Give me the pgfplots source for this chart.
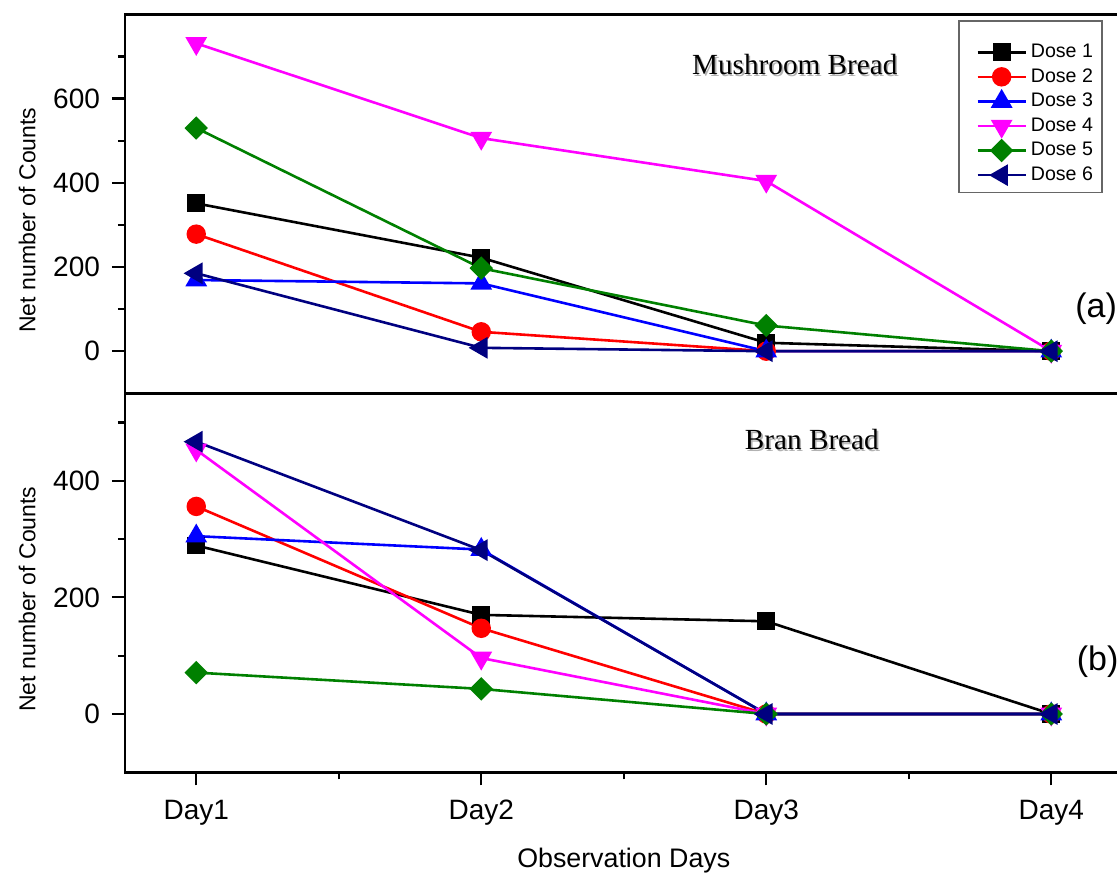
\documentclass[border=0pt]{standalone}
\usepackage{pgfplots}
\pgfplotsset{compat=1.18}
\usepackage{fontspec}
\setmainfont{Liberation Sans}
\newfontfamily\serifft{Liberation Serif}
\definecolor{cNavy}{RGB}{0,0,128}
\definecolor{cGreen}{RGB}{0,128,0}
\definecolor{cMag}{RGB}{255,0,255}
\definecolor{cBlue}{RGB}{0,0,255}
\definecolor{cRed}{RGB}{255,0,0}
\pgfplotsset{
  panel/.style={
    scale only axis, width=498.75pt, height=189.5pt,
    xmin=0.75, xmax=4.25,
    tick align=outside,
    ytick pos=left, xtick pos=bottom,
    axis line style={line width=1.3pt},
    major tick length=6.5pt, minor tick length=3.5pt,
    every tick/.style={line width=1.1pt, black},
    tick label style={font=\fontsize{14}{16}\selectfont},
    yticklabel style={xshift=-2.5pt},
    /pgf/number format/assume math mode=true,
    ylabel={Net number of Counts},
    ylabel style={font=\fontsize{11.5}{13}\selectfont, at={(axis description cs:-0.0982,0.457)}, anchor=center},
    clip=false,
    every axis plot/.append style={line width=1.3pt},
  },
  d1/.style={black, mark=square*, mark size=3.8pt, mark options={solid, fill=black}},
  d2/.style={cRed, mark=*, mark size=4.2pt, mark options={solid, fill=cRed}},
  d3/.style={cBlue, mark=triangle*, mark size=5pt, mark options={solid, fill=cBlue}},
  d4/.style={cMag, mark=triangle*, mark size=5pt, mark options={solid, fill=cMag, rotate=180}},
  d5/.style={cGreen, mark=square*, mark size=3.5pt, mark options={solid, fill=cGreen, rotate=45}},
  d6/.style={cNavy, mark=triangle*, mark size=5pt, mark options={solid, fill=cNavy, rotate=90}},
}
\begin{document}
\begin{tikzpicture}
% bottom panel (b)
\begin{axis}[panel, name=bot, at={(0,0)}, anchor=south west,
  ymin=-100, ymax=550,
  ytick={0,200,400}, minor ytick={100,300,500},
  xtick={1,2,3,4}, xticklabels={Day1,Day2,Day3,Day4},
  minor xtick={1.5,2.5,3.5},
  xticklabel style={yshift=-4pt},
  xlabel={Observation Days},
  xlabel style={font=\fontsize{13.4}{15}\selectfont, at={(axis description cs:0.5,0)}, anchor=base, yshift=-47.5pt},
]
\addplot[d1] coordinates {(1,289) (2,170) (3,159) (4,0)};
\addplot[d2] coordinates {(1,356) (2,147) (3,0) (4,0)};
\addplot[d3] coordinates {(1,305) (2,282) (3,0) (4,0)};
\addplot[d4] coordinates {(1,453) (2,96) (3,0) (4,0)};
\addplot[d5] coordinates {(1,71) (2,43) (3,0) (4,0)};
\addplot[d6] coordinates {(1,467) (2,281) (3,0) (4,0)};
\node[text=black!30, font=\serifft\fontsize{14.6}{16}\selectfont] at ([shift={(0.8pt,-0.8pt)}]axis cs:3.16,470) {Bran Bread};
\node[font=\serifft\fontsize{14.6}{16}\selectfont] at (axis cs:3.16,470) {Bran Bread};
\node[anchor=west, font=\fontsize{17}{19}\selectfont] at (axis cs:4.065,90) {(b)};
\end{axis}
% top panel (a)
\begin{axis}[panel, name=top, at={(0,189.5pt)}, anchor=south west,
  ymin=-100, ymax=800,
  ytick={0,200,400,600}, minor ytick={100,300,500,700},
  xtick=\empty,
  legend style={at={(0.98,0.984)}, anchor=north east, draw=black!60, line width=0.6pt,
    font=\fontsize{9.8}{11}\selectfont, row sep=0pt, inner sep=2.5pt, cells={anchor=west}},
  legend image code/.code={\path (-0.22cm,0cm); \draw[mark repeat=2,mark phase=2] plot coordinates {(0cm,0cm) (0.42cm,0cm) (0.84cm,0cm)};},
]
\addlegendimage{empty legend}
\addlegendentry{\rule{0pt}{1.5pt}}
\addplot[d1] coordinates {(1,351) (2,222) (3,20) (4,0)};
\addlegendentry{Dose 1}
\addplot[d2] coordinates {(1,278) (2,46) (3,0) (4,0)};
\addlegendentry{Dose 2}
\addplot[d3] coordinates {(1,169) (2,161) (3,0) (4,0)};
\addlegendentry{Dose 3}
\addplot[d4] coordinates {(1,731) (2,506) (3,404) (4,0)};
\addlegendentry{Dose 4}
\addplot[d5] coordinates {(1,530) (2,197) (3,61) (4,0)};
\addlegendentry{Dose 5}
\addplot[d6] coordinates {(1,185) (2,8) (3,0) (4,0)};
\addlegendentry{Dose 6}
\node[text=black!30, font=\serifft\fontsize{14.6}{16}\selectfont] at ([shift={(0.8pt,-0.8pt)}]axis cs:3.10,680) {Mushroom Bread};
\node[font=\serifft\fontsize{14.6}{16}\selectfont] at (axis cs:3.10,680) {Mushroom Bread};
\node[anchor=west, font=\fontsize{17}{19}\selectfont] at (axis cs:4.06,102) {(a)};
\end{axis}
\pgfresetboundingbox
\path[use as bounding box] (-62.5pt,-50.15pt) rectangle (496pt,386.15pt);
\end{tikzpicture}
\end{document}
